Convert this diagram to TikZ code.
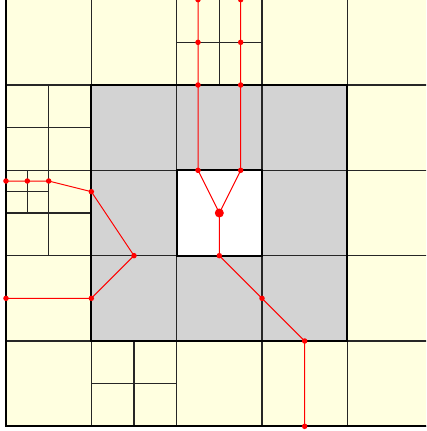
\documentclass[tikz,border=0pt]{standalone}
\begin{document}
\begin{tikzpicture}[x=85.333pt,y=-85.333pt,
  gridline/.style={draw=black!85,line width=1.25pt},
  thickline/.style={draw=black,line width=1.7pt},
  redline/.style={draw=red,line width=1pt},
  dot/.style={circle,fill=red,inner sep=0pt,minimum size=5.5pt},
  bigdot/.style={circle,fill=red,inner sep=0pt,minimum size=9pt}]
\useasboundingbox (-0.0703,0.0039) rectangle (4.9219,5.0547);
\clip (-0.0703,0.0039) rectangle (4.9219,5.0547);
% fills
\fill[fill={rgb,255:red,255;green,255;blue,224}] (0,0) rectangle (5,5);
\fill[fill={rgb,255:red,211;green,211;blue,211}] (1,1) rectangle (4,4);
\fill[white] (2,2) rectangle (3,3);
% main grid
\foreach \k in {0,...,5} {
  \draw[gridline] (\k,0) -- (\k,5);
  \draw[gridline] (0,\k) -- (5,\k);
}
% subdivisions
\draw[gridline] (2.5,0) -- (2.5,1);
\draw[gridline] (2,0.5) -- (3,0.5);
\draw[gridline] (0.5,1) -- (0.5,3);
\draw[gridline] (0,1.5) -- (1,1.5);
\draw[gridline] (0,2.5) -- (1,2.5);
\draw[gridline] (0.25,2) -- (0.25,2.5);
\draw[gridline] (0,2.25) -- (0.5,2.25);
\draw[gridline] (1.5,4) -- (1.5,5);
\draw[gridline] (1,4.5) -- (2,4.5);
% thick outlines
\draw[thickline] (1,1) rectangle (4,4);
\draw[thickline] (2,2) rectangle (3,3);
\draw[thickline] (0,0) -- (0,5) -- (5,5);
% red graph nodes
\node[dot] (a0) at (2.25,0) {};
\node[dot] (a1) at (2.25,0.5) {};
\node[dot] (a2) at (2.25,1) {};
\node[dot] (a3) at (2.25,2) {};
\node[dot] (b0) at (2.75,0) {};
\node[dot] (b1) at (2.75,0.5) {};
\node[dot] (b2) at (2.75,1) {};
\node[dot] (b3) at (2.75,2) {};
\node[bigdot] (c) at (2.5,2.5) {};
\node[dot] (d0) at (2.5,3) {};
\node[dot] (d1) at (3,3.5) {};
\node[dot] (d2) at (3.5,4) {};
\node[dot] (d3) at (3.5,5) {};
\node[dot] (l0) at (0,2.125) {};
\node[dot] (l1) at (0.25,2.125) {};
\node[dot] (l2) at (0.5,2.125) {};
\node[dot] (l3) at (1,2.25) {};
\node[dot] (l4) at (1.5,3) {};
\node[dot] (l5) at (1,3.5) {};
\node[dot] (l6) at (0,3.5) {};
% red graph edges
\draw[redline] (a0.center) -- (a1.center) -- (a2.center) -- (a3.center) -- (c.center);
\draw[redline] (b0.center) -- (b1.center) -- (b2.center) -- (b3.center) -- (c.center);
\draw[redline] (c.center) -- (d0.center) -- (d1.center) -- (d2.center) -- (d3.center);
\draw[redline] (l0.center) -- (l1.center) -- (l2.center) -- (l3.center) -- (l4.center) -- (l5.center) -- (l6.center);
\end{tikzpicture}
\end{document}
